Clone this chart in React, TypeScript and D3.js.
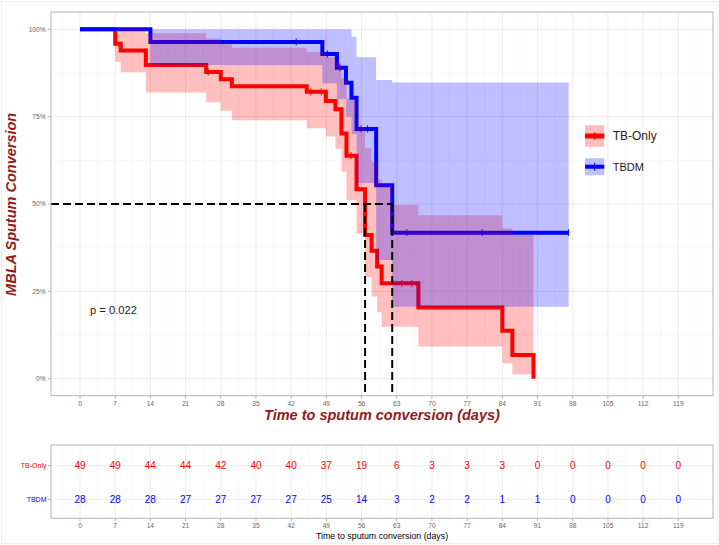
import React from 'react';
import * as d3 from 'd3';

// ---------- data ----------
const redTimes = [0, 7, 8.1, 13.1, 25.1, 28, 30.2, 45.1, 48.9, 50.8, 52, 53, 55, 56.7, 58, 59.1, 60, 62.1, 67.3, 84, 86, 90.2];
const redSurv = [1, 0.959, 0.939, 0.898, 0.878, 0.857, 0.837, 0.821, 0.795, 0.771, 0.702, 0.638, 0.542, 0.411, 0.366, 0.321, 0.273, 0.273, 0.204, 0.137, 0.068, 0];
const redUpper = [1, 1, 1, 0.989, 0.974, 0.96, 0.947, 0.935, 0.92, 0.905, 0.86, 0.8, 0.72, 0.66, 0.62, 0.57, 0.555, 0.497, 0.468, 0.43, 0.411, 0.411];
const redLower = [1, 0.907, 0.877, 0.819, 0.791, 0.767, 0.74, 0.717, 0.693, 0.659, 0.592, 0.511, 0.416, 0.29, 0.235, 0.19, 0.149, 0.149, 0.092, 0.044, 0.013, 0.013];
const redCensor = [25.5, 45.9, 48, 53.9, 64, 66];

const blueTimes = [0, 14, 48.2, 51.1, 52.9, 54, 55, 58.9, 62.1, 97.2];
const blueSurv = [1, 0.964, 0.929, 0.89, 0.847, 0.804, 0.715, 0.554, 0.418, 0.418];
const blueUpper = [1, 1, 1, 1, 1, 0.979, 0.92, 0.855, 0.848, 0.848];
const blueLower = [1, 0.898, 0.845, 0.8, 0.75, 0.7, 0.56, 0.34, 0.206, 0.206];
const blueCensor = [43, 49.2, 51.7, 55.9, 57.2, 65, 80, 97.2];

const groups = ['TB-Only', 'TBDM'];
const groupColors = ['#ff0000', '#0000ff'];

const xBreaks = [0, 7, 14, 21, 28, 35, 42, 49, 56, 63, 70, 77, 84, 91, 98, 105, 112, 119];
const yBreaks = [0, 0.25, 0.5, 0.75, 1];
const yLabels = ['0%', '25%', '50%', '75%', '100%'];

const riskTB = [49, 49, 44, 44, 42, 40, 40, 37, 19, 6, 3, 3, 3, 0, 0, 0, 0, 0];
const riskDM = [28, 28, 28, 27, 27, 27, 27, 25, 14, 3, 2, 2, 1, 1, 0, 0, 0, 0];

const pText = 'p = 0.022';
const yTitle = 'MBLA Sputum Conversion';
const xTitle = 'Time to sputum conversion (days)';

// ---------- layout ----------
const W = 719, H = 545;
const P = { left: 51, right: 713, top: 12, bottom: 395.7 };
const R = { top: 445, bottom: 518.3 };
const FONT = 'Liberation Sans, Arial, sans-serif';
const TITLE_COLOR = '#921a1a';

const x = d3.scaleLinear().domain([0, 119]).range([80, 678.3]);
const y = d3.scaleLinear().domain([0, 1]).range([378.7, 29.3]);
const xMin = x.invert(P.left), xMax = x.invert(P.right);

const stepAt = (times: number[], vals: number[], t: number) => vals[Math.max(0, d3.bisectRight(times, t) - 1)];

function band(times: number[], up: number[], lo: number[]) {
  const pts = times.map((t, i) => ({ t, u: up[i], l: lo[i] }));
  return d3.area<any>().curve(d3.curveStepAfter).x(d => x(d.t)).y0(d => y(d.l)).y1(d => y(d.u))(pts) || '';
}
function curve(times: number[], s: number[]) {
  const pts = times.map((t, i) => ({ t, s: s[i] }));
  return d3.line<any>().curve(d3.curveStepAfter).x(d => x(d.t)).y(d => y(d.s))(pts) || '';
}
function median(times: number[], s: number[]) {
  const i = s.findIndex(v => v <= 0.5);
  return times[i];
}

export default function App() {
  const xMinor = d3.range(-3.5, xMax, 7).filter(v => v > xMin);
  const yMinor = [0.125, 0.375, 0.625, 0.875];
  const redMed = median(redTimes, redSurv);
  const blueMed = median(blueTimes, blueSurv);
  const rowY = [465.7, 499.3];
  const risks = [riskTB, riskDM];

  return (
    <svg width={W} height={H} style={{ position: 'absolute', left: 0, top: 0, background: '#fff' }} fontFamily={FONT}>
      <rect x={0} y={0} width={W} height={H} fill="#fff" />
      <rect x={1.5} y={1.5} width={W - 3} height={H - 3} fill="none" stroke="#efefef" />

      {/* ===== main panel ===== */}
      <g>
        {xMinor.map(v => <line key={'xm' + v} x1={x(v)} x2={x(v)} y1={P.top} y2={P.bottom} stroke="#f3f3f3" strokeWidth={0.6} />)}
        {yMinor.map(v => <line key={'ym' + v} x1={P.left} x2={P.right} y1={y(v)} y2={y(v)} stroke="#f3f3f3" strokeWidth={0.6} />)}
        {xBreaks.map(v => <line key={'xg' + v} x1={x(v)} x2={x(v)} y1={P.top} y2={P.bottom} stroke="#e6e6e6" strokeWidth={0.8} />)}
        {yBreaks.map(v => <line key={'yg' + v} x1={P.left} x2={P.right} y1={y(v)} y2={y(v)} stroke="#e6e6e6" strokeWidth={0.8} />)}

        {/* curves */}
        <path d={curve(redTimes, redSurv)} fill="none" stroke={groupColors[0]} strokeWidth={4} />
        {redCensor.map(t => <line key={'rc' + t} x1={x(t)} x2={x(t)} y1={y(stepAt(redTimes, redSurv, t)) - 3.5} y2={y(stepAt(redTimes, redSurv, t)) + 3.5} stroke={groupColors[0]} strokeWidth={1} />)}
        <path d={curve(blueTimes, blueSurv)} fill="none" stroke={groupColors[1]} strokeWidth={4} />
        {blueCensor.map(t => <line key={'bc' + t} x1={x(t)} x2={x(t)} y1={y(stepAt(blueTimes, blueSurv, t)) - 3.5} y2={y(stepAt(blueTimes, blueSurv, t)) + 3.5} stroke={groupColors[1]} strokeWidth={1} />)}

        {/* confidence ribbons */}
        <path d={band(redTimes, redUpper, redLower)} fill={groupColors[0]} fillOpacity={0.25} />
        <path d={band(blueTimes, blueUpper, blueLower)} fill={groupColors[1]} fillOpacity={0.25} />

        {/* median lines */}
        <line x1={P.left} x2={x(blueMed)} y1={y(0.5)} y2={y(0.5)} stroke="#000" strokeWidth={2} strokeDasharray="8,4" />
        <line x1={x(redMed)} x2={x(redMed)} y1={y(0.5)} y2={P.bottom} stroke="#000" strokeWidth={2} strokeDasharray="8,4" />
        <line x1={x(blueMed)} x2={x(blueMed)} y1={y(0.5)} y2={P.bottom} stroke="#000" strokeWidth={2} strokeDasharray="8,4" />

        <text x={90} y={314} fontSize={11.2} fill="#222">{pText}</text>

        <rect x={P.left} y={P.top} width={P.right - P.left} height={P.bottom - P.top} fill="none" stroke="#b3b3b3" strokeWidth={1} />

        {/* axes */}
        {yBreaks.map((v, i) => (
          <g key={'yt' + v}>
            <line x1={P.left - 3} x2={P.left} y1={y(v)} y2={y(v)} stroke="#b3b3b3" />
            <text x={P.left - 5.5} y={y(v)} dy="0.35em" textAnchor="end" fontSize={6.6} fill="#666">{yLabels[i]}</text>
          </g>
        ))}
        {xBreaks.map(v => (
          <g key={'xt' + v}>
            <line x1={x(v)} x2={x(v)} y1={P.bottom} y2={P.bottom + 3} stroke="#b3b3b3" />
            <text x={x(v)} y={P.bottom + 10} textAnchor="middle" fontSize={6.6} fill="#666">{v}</text>
          </g>
        ))}
        <text x={(P.left + P.right) / 2} y={420} textAnchor="middle" fontSize={14.5} fontWeight="bold" fontStyle="italic" fill={TITLE_COLOR}>{xTitle}</text>
        <text transform={`translate(16.3, ${(P.top + P.bottom) / 2 + 0.5}) rotate(-90)`} textAnchor="middle" fontSize={14.5} fontWeight="bold" fontStyle="italic" fill={TITLE_COLOR}>{yTitle}</text>

        {/* legend */}
        {groups.map((g, i) => {
          const cy = i === 0 ? 136 : 166.7;
          const hh = i === 0 ? 10.8 : 8.5;
          return (
            <g key={g}>
              <rect x={585} y={cy - hh} width={19.3} height={hh * 2} fill={groupColors[i]} fillOpacity={0.25} />
              <line x1={585} x2={604.3} y1={cy} y2={cy} stroke={groupColors[i]} strokeWidth={i === 0 ? 5 : 4} />
              <line x1={594.7} x2={594.7} y1={cy - 4} y2={cy + 4} stroke={groupColors[i]} strokeWidth={1} />
              <text x={612.7} y={cy} dy="0.36em" fontSize={i === 0 ? 12 : 11} fill="#222">{g}</text>
            </g>
          );
        })}
      </g>

      {/* ===== risk table ===== */}
      <g>
        {xMinor.map(v => <line key={'rxm' + v} x1={x(v)} x2={x(v)} y1={R.top} y2={R.bottom} stroke="#f3f3f3" strokeWidth={0.6} />)}
        {xBreaks.map(v => <line key={'rxg' + v} x1={x(v)} x2={x(v)} y1={R.top} y2={R.bottom} stroke="#e6e6e6" strokeWidth={0.8} />)}
        {rowY.map(ry => <line key={'ry' + ry} x1={P.left} x2={P.right} y1={ry} y2={ry} stroke="#e6e6e6" strokeWidth={0.8} />)}
        {risks.map((arr, gi) => arr.map((n, i) => (
          <text key={gi + '-' + i} x={x(xBreaks[i])} y={rowY[gi]} dy="0.36em" textAnchor="middle" fontSize={10} fill={groupColors[gi]}>{n}</text>
        )))}
        <rect x={P.left} y={R.top} width={P.right - P.left} height={R.bottom - R.top} fill="none" stroke="#b3b3b3" strokeWidth={1} />
        {groups.map((g, gi) => (
          <g key={'rl' + g}>
            <line x1={P.left - 3} x2={P.left} y1={rowY[gi]} y2={rowY[gi]} stroke="#b3b3b3" />
            <text x={P.left - 4.5} y={rowY[gi]} dy="0.35em" textAnchor="end" fontSize={7} fill={groupColors[gi]}>{g}</text>
          </g>
        ))}
        {xBreaks.map(v => (
          <g key={'rxt' + v}>
            <line x1={x(v)} x2={x(v)} y1={R.bottom} y2={R.bottom + 3} stroke="#b3b3b3" />
            <text x={x(v)} y={R.bottom + 9.8} textAnchor="middle" fontSize={6.6} fill="#666">{v}</text>
          </g>
        ))}
        <text x={(P.left + P.right) / 2} y={539} textAnchor="middle" fontSize={8.8} fill="#000">{xTitle}</text>
      </g>
    </svg>
  );
}
